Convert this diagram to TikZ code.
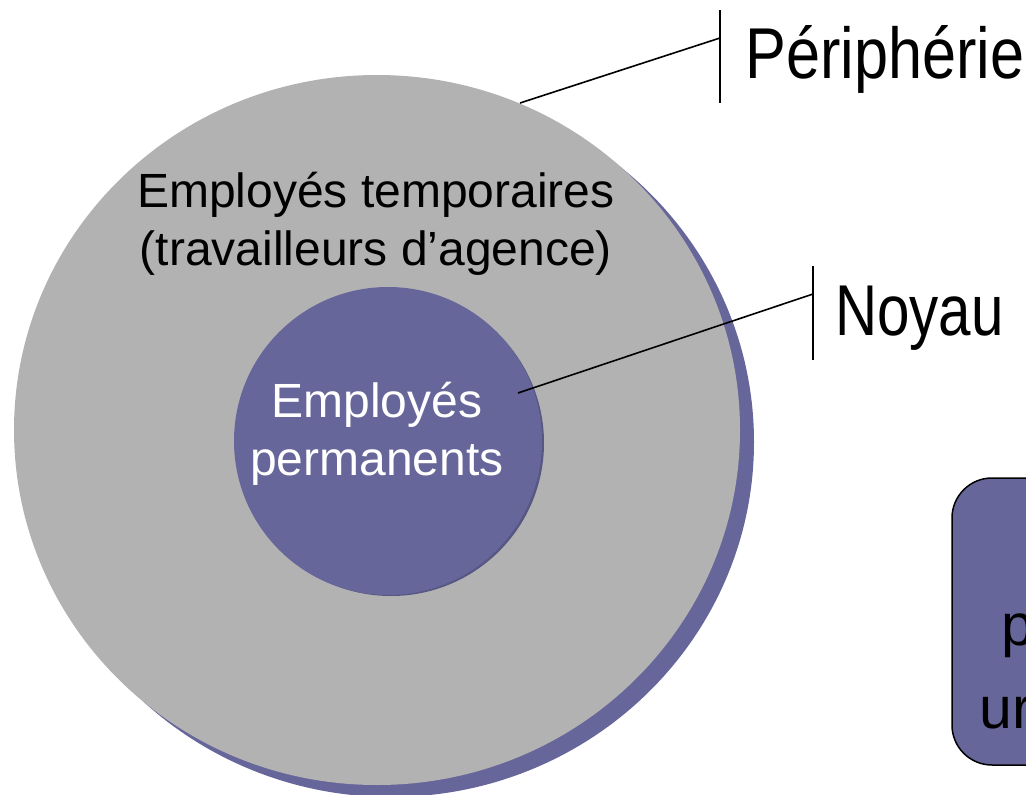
\documentclass[tikz,border=0pt]{standalone}
\usepackage{fontspec}
\setmainfont{Liberation Sans}
\definecolor{violet}{RGB}{103,102,154}
\definecolor{gris}{RGB}{178,178,178}
\tikzset{
  leader/.style={draw=black, line width=1.6pt},
  biglabel/.style={font=\fontsize{72}{80}\selectfont, inner sep=0pt, anchor=base west},
  midtext/.style={font=\fontsize{48}{58}\selectfont, align=center, inner sep=0pt},
  boxtext/.style={font=\fontsize{59}{66}\selectfont, inner sep=0pt, anchor=base west},
}
\begin{document}
\begin{tikzpicture}[x=1pt,y=-1pt]
\useasboundingbox (0,0) rectangle (1026,795);
\clip (0,0) rectangle (1026,795);
% outer circle with shadow
\fill[violet] (391,442) ellipse [x radius=363, y radius=355];
\fill[gris] (377,430) ellipse [x radius=363, y radius=355];
% inner circle
\fill[violet!85!black] (391,443) circle [radius=153];
\fill[violet] (388,441) circle [radius=154];
% texts in circles
\node[midtext, text=black] (temp) at (376,224) {Employés temporaires\\(travailleurs d’agence)};
\node[midtext, text=white] (perm) at (377,434) {Employés\\permanents};
% Peripherie label
\coordinate (pa) at (520,103);
\coordinate (pb) at (720,38);
\coordinate (pt) at (720,10);
\coordinate (pbb) at (720,103);
\draw[leader] (pa) -- (pb);
\draw[leader] (pt) -- (pbb);
\node[biglabel] (peri) at (745,78) {\scalebox{0.85}[1]{Périphérie}};
% Noyau label
\coordinate (na) at (518,393);
\coordinate (nb) at (813,294);
\coordinate (nt) at (813,266);
\coordinate (nbb) at (813,360);
\draw[leader] (na) -- (nb);
\draw[leader] (nt) -- (nbb);
\node[biglabel] (noyau) at (835,335) {\scalebox{0.81}[1]{Noyau}};
% cut-off rounded box
\draw[line width=1.5pt, fill=violet, rounded corners=40pt] (952,478) rectangle (1200,765);
\node[boxtext] (bp) at (1001,645) {p};
\node[boxtext] (bu) at (979,728) {ur};
\end{tikzpicture}
\end{document}
